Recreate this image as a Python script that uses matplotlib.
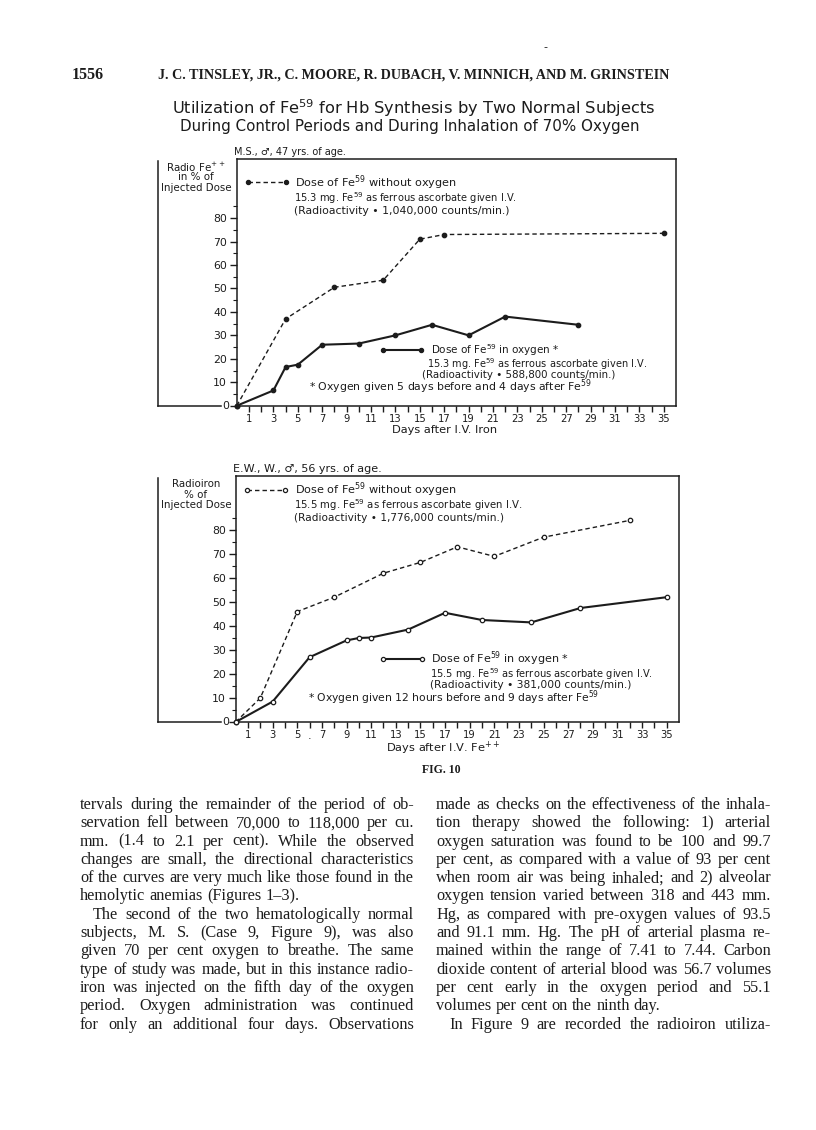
import matplotlib
matplotlib.use("Agg")
import matplotlib.pyplot as plt
from matplotlib.font_manager import FontProperties

W, H = 816, 1130
fig = plt.figure(figsize=(W / 100, H / 100), dpi=100)
fig.patch.set_facecolor('white')
ink = '#1c1c1c'

# ---- data (day, % of injected dose) ----
ms_ctrl_days = [0, 4, 8, 12, 15, 17, 35]
ms_ctrl_pct = [0, 37, 50.5, 53.5, 71, 73, 73.5]
ms_o2_days = [0, 3, 4, 5, 7, 10, 13, 16, 19, 22, 28]
ms_o2_pct = [0, 6.5, 16.5, 17.5, 26, 26.5, 30, 34.5, 30, 38, 34.5]

ew_ctrl_days = [0, 2, 5, 8, 12, 15, 18, 21, 25, 32]
ew_ctrl_pct = [0, 10, 46, 52, 62, 66.5, 73, 69, 77, 84]
ew_o2_days = [0, 3, 6, 9, 10, 11, 14, 17, 20, 24, 28, 35]
ew_o2_pct = [0, 8.5, 27, 34, 35, 35.2, 38.5, 45.5, 42.5, 41.5, 47.5, 52]

day_ticks = list(range(1, 36))
day_labels = [str(d) if d % 2 else '' for d in day_ticks]
pct_ticks = list(range(0, 90, 10))

# ---- page canvas in pixel coordinates ----
pg = fig.add_axes([0, 0, 1, 1])
pg.set_xlim(0, W)
pg.set_ylim(H, 0)
pg.axis('off')

renderer = fig.canvas.get_renderer()


def fit(ax, x0, x1, y, s, ppu=1.0, k=1.0, **kw):
    # stretch the font size so the text runs from x0 to x1
    t = ax.text(x0, y, s, fontsize=10, ha='left', va='center', color=ink, **kw)
    w = t.get_window_extent(renderer).width
    t.set_fontsize(k * 10 * (x1 - x0) * ppu / w)
    return t


def px_box(x0, y0, x1, y1):
    return [x0 / W, 1 - y1 / H, (x1 - x0) / W, (y1 - y0) / H]


# ---- header ----
pg.text(545, 47, '-', fontsize=8, ha='center', va='center', color=ink)
pg.text(72, 75, '1556', fontsize=11.5, fontweight='bold', family='Liberation Serif',
        ha='left', va='center', color=ink)
fit(pg, 158, 670, 75, 'J. C. TINSLEY, JR., C. MOORE, R. DUBACH, V. MINNICH, AND M. GRINSTEIN',
    family='Liberation Serif', fontweight='bold')

fit(pg, 172, 657, 108, r'Utilization of Fe$^{59}$ for Hb Synthesis by Two Normal Subjects')
fit(pg, 180, 642, 127, 'During Control Periods and During Inhalation of 70% Oxygen')


def panel(box, ymax, ctrl, o2, filled, leg, ylab, subj, xlab, extra_dot=False):
    x0, y0, x1, y1 = box
    ax = fig.add_axes(px_box(x0, y0, x1, y1))
    ax.set_xlim(0, 36)
    ax.set_ylim(0, ymax)
    ppd = (x1 - x0) / 36
    for sp in ax.spines.values():
        sp.set_linewidth(1.1)
        sp.set_color(ink)
    ax.set_xticks(day_ticks)
    ax.set_xticklabels(day_labels, fontsize=7.2)
    ax.set_yticks(pct_ticks)
    ax.set_yticklabels([str(v) for v in pct_ticks], fontsize=7.8)
    ax.set_yticks(range(5, 90, 10), minor=True)
    ax.tick_params(axis='x', direction='out', length=4, width=1, colors=ink, pad=2)
    ax.tick_params(axis='y', direction='out', length=5, width=1, colors=ink, pad=2)
    ax.tick_params(axis='y', which='minor', direction='out', length=3, width=0.8, colors=ink)
    ax.tick_params(top=False, right=False)
    ax.get_yticklabels()[0].set_visible(False)

    mfc = ink if filled else 'white'
    ax.plot(ctrl[0], ctrl[1], color=ink, lw=1.0, dashes=(3.2, 2.2), marker='o',
            ms=3.2, mfc=mfc, mec=ink, mew=0.9, clip_on=False, zorder=3)
    ax.plot(o2[0], o2[1], color=ink, lw=1.5, marker='o', ms=3.2, mfc=mfc,
            mec=ink, mew=0.9, clip_on=False, zorder=3)

    # legend samples and notes
    (cx, cy), (ox, oy) = leg['ctrl'], leg['o2']
    ax.plot([cx, cx + 3.1], [cy, cy], color=ink, lw=1.0, dashes=(3.2, 2.2),
            marker='o', ms=3, mfc=mfc, mec=ink, mew=0.9)
    ax.plot([ox, ox + 3.1], [oy, oy], color=ink, lw=1.5, marker='o', ms=3,
            mfc=mfc, mec=ink, mew=0.9)
    for (d0, d1, ty, s) in leg['text']:
        fit(ax, d0, d1, ty, s, ppu=ppd, k=0.91)

    # y-label box to the left
    pg.plot([158, 158], [y0 + 2, y1], color=ink, lw=1.1)
    pg.plot([158, 221], [y1, y1], color=ink, lw=1.1)
    pg.text(226, y1, '0', fontsize=7.8, ha='center', va='center', color=ink)
    for i, s in enumerate(ylab):
        pg.text(196, y0 + 8 + 10.5 * i, s, fontsize=7.4, ha='center', va='center', color=ink)
    pg.text(x0 - 3, y0 - 7, subj[0], fontsize=subj[1], ha='left', va='center', color=ink)
    pg.text(xlab[1], xlab[2], xlab[0], fontsize=8.2, ha='center', va='center', color=ink)
    if extra_dot:
        ax.text(6, -0.05, '\u00b7', transform=ax.get_xaxis_transform(),
                fontsize=8, ha='center', va='top', color=ink)
    return ax


panel((236.8, 159, 676, 405.7), 105.2,
      (ms_ctrl_days, ms_ctrl_pct), (ms_o2_days, ms_o2_pct), True,
      {'ctrl': (0.9, 95.2), 'o2': (12.0, 23.6),
       'text': [(4.8, 19.4, 95.0, r'Dose of Fe$^{59}$ without oxygen'),
                (4.7, 24.8, 88.4, r'15.3 mg. Fe$^{59}$ as ferrous ascorbate given I.V.'),
                (4.7, 24.1, 83.1, '(Radioactivity \u2022 1,040,000 counts/min.)'),
                (15.9, 27.4, 23.6, r'Dose of Fe$^{59}$ in oxygen *'),
                (15.6, 35.3, 17.8, r'15.3 mg. Fe$^{59}$ as ferrous ascorbate given I.V.'),
                (15.2, 32.7, 13.2, '(Radioactivity \u2022 588,800 counts/min.)'),
                (5.9, 31.2, 8.0, r'* Oxygen given 5 days before and 4 days after Fe$^{59}$')]},
      [r'Radio Fe$^{++}$', 'in % of', 'Injected Dose'],
      ('M.S., \u2642, 47 yrs. of age.', 7.0), ('Days after I.V. Iron', 445, 430))

panel((235.7, 476, 679, 722), 102.5,
      (ew_ctrl_days, ew_ctrl_pct), (ew_o2_days, ew_o2_pct), False,
      {'ctrl': (0.9, 96.5), 'o2': (12.0, 26.1),
       'text': [(4.85, 19.2, 96.8, r'Dose of Fe$^{59}$ without oxygen'),
                (4.7, 25.0, 90.2, r'15.5 mg. Fe$^{59}$ as ferrous ascorbate given I.V.'),
                (4.7, 23.3, 85.1, '(Radioactivity \u2022 1,776,000 counts/min.)'),
                (15.9, 28.1, 26.3, r'Dose of Fe$^{59}$ in oxygen *'),
                (15.8, 35.6, 20.0, r'15.5 mg. Fe$^{59}$ as ferrous ascorbate given I.V.'),
                (15.8, 33.6, 15.3, '(Radioactivity \u2022 381,000 counts/min.)'),
                (5.85, 31.8, 10.2, r'* Oxygen given 12 hours before and 9 days after Fe$^{59}$')]},
      ['Radioiron', '% of', 'Injected Dose'],
      ('E.W., W., \u2642, 56 yrs. of age.', 8.0), (r'Days after I.V. Fe$^{++}$', 443, 748),
      extra_dot=True)

pg.text(441, 770, 'FIG. 10', fontsize=8.5, fontweight='bold', family='Liberation Serif',
        ha='center', va='center', color=ink)

# ---- body text, two justified columns ----
left_col = [
    'tervals during the remainder of the period of ob-',
    'servation fell between 70,000 to 118,000 per cu.',
    'mm. (1.4 to 2.1 per cent). While the observed',
    'changes are small, the directional characteristics',
    'of the curves are very much like those found in the',
    'hemolytic anemias (Figures 1\u20133).',
    'The second of the two hematologically normal',
    'subjects, M. S. (Case 9, Figure 9), was also',
    'given 70 per cent oxygen to breathe. The same',
    'type of study was made, but in this instance radio-',
    'iron was injected on the fifth day of the oxygen',
    'period. Oxygen administration was continued',
    'for only an additional four days. Observations',
]
right_col = [
    'made as checks on the effectiveness of the inhala-',
    'tion therapy showed the following: 1) arterial',
    'oxygen saturation was found to be 100 and 99.7',
    'per cent, as compared with a value of 93 per cent',
    'when room air was being inhaled; and 2) alveolar',
    'oxygen tension varied between 318 and 443 mm.',
    'Hg, as compared with pre-oxygen values of 93.5',
    'and 91.1 mm. Hg. The pH of arterial plasma re-',
    'mained within the range of 7.41 to 7.44. Carbon',
    'dioxide content of arterial blood was 56.7 volumes',
    'per cent early in the oxygen period and 55.1',
    'volumes per cent on the ninth day.',
    'In Figure 9 are recorded the radioiron utiliza-',
]
left_last = {5}
left_indent = {6}
right_last = {11}
right_indent = {12}

# pick the body size so the widest line just fills the column
probe = FontProperties(family='Liberation Serif', size=10)
widest = max(renderer.get_text_width_height_descent(s, probe, ismath=False)[0]
             for s in left_col + right_col)
fp = FontProperties(family='Liberation Serif', size=10 * 330 / widest)


def column(lines, x0, x1, ytop, dy, last, indent):
    sp = renderer.get_text_width_height_descent('a a', fp, ismath=False)[0] - \
        renderer.get_text_width_height_descent('aa', fp, ismath=False)[0]
    for i, line in enumerate(lines):
        words = line.split()
        ws = [renderer.get_text_width_height_descent(w, fp, ismath=False)[0] for w in words]
        xs = x0 + (13 if i in indent else 0)
        if i in last or len(words) < 2:
            gap = sp
        else:
            gap = (x1 - xs - sum(ws)) / (len(words) - 1)
        x = xs
        for w, wd in zip(words, ws):
            pg.text(x, ytop + i * dy, w, fontproperties=fp, ha='left',
                    va='baseline', color=ink)
            x += wd + gap


column(left_col, 80, 414, 809, 18.3, left_last, left_indent)
column(right_col, 436, 771, 809, 18.3, right_last, right_indent)

fig.savefig('out.png', dpi=100, facecolor='white')
